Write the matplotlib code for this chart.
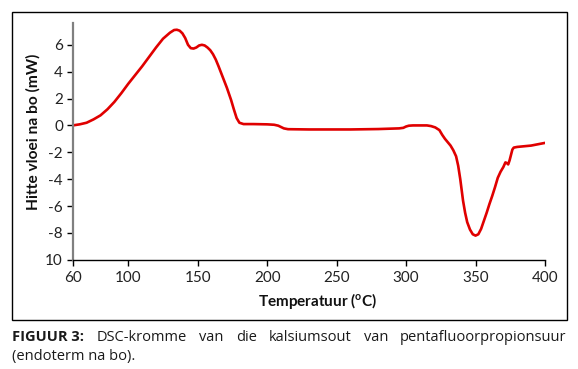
import matplotlib
matplotlib.use("Agg")
import matplotlib.pyplot as plt
from matplotlib.patches import Rectangle

# ---- data ----
temperature = [60, 65, 70, 75, 80, 85, 90, 95, 100, 105, 110, 115, 120, 125, 130,
               133, 135, 137, 139, 141, 143, 145, 147, 149, 151, 153, 155, 157, 159,
               161, 163, 165, 168, 171, 174, 176, 178, 180, 183, 190, 200, 205, 208,
               210, 212, 215, 230, 260, 280, 295, 298, 300, 302, 305, 315, 318, 321,
               324, 326, 328, 330, 332, 334, 336, 337.5, 339, 340, 341, 342.5, 344,
               346, 348, 350, 352, 354, 356, 358, 360, 362, 364, 366, 368, 370, 371.5,
               372.5, 373.5, 374.5, 375.5, 376.5, 377.5, 380, 385, 390, 395, 400]
heat_flow = [0.0, 0.08, 0.2, 0.45, 0.75, 1.2, 1.75, 2.4, 3.1, 3.75, 4.4, 5.1, 5.8,
             6.45, 6.9, 7.1, 7.12, 7.05, 6.85, 6.5, 6.0, 5.75, 5.72, 5.8, 5.95, 6.0,
             5.95, 5.8, 5.6, 5.3, 4.9, 4.4, 3.6, 2.8, 1.9, 1.2, 0.55, 0.2, 0.1, 0.1,
             0.08, 0.05, -0.02, -0.12, -0.22, -0.28, -0.3, -0.3, -0.27, -0.22, -0.18,
             -0.08, -0.02, 0.0, 0.0, -0.05, -0.15, -0.35, -0.7, -1.0, -1.25, -1.5,
             -1.85, -2.3, -3.0, -4.0, -4.8, -5.6, -6.5, -7.2, -7.75, -8.1, -8.2, -8.1,
             -7.7, -7.1, -6.5, -5.85, -5.25, -4.6, -3.9, -3.45, -3.1, -2.75, -2.8,
             -2.9, -2.6, -2.2, -1.8, -1.65, -1.6, -1.55, -1.5, -1.4, -1.3]
x_ticks = [60, 100, 150, 200, 250, 300, 350, 400]
y_ticks = [6, 4, 2, 0, -2, -4, -6, -8, -10]
y_tick_labels = ["6", "4", "2", "0", "-2", "-4", "-6", "-8", "10"]
x_label = "Temperatuur ($\\mathregular{^{o}}$C)"
y_label = "Hitte vloei na bo (mW)"
caption_bold = "FIGUUR 3:"
caption_words1 = ["DSC-kromme", "van", "die", "kalsiumsout", "van", "pentafluoorpropionsuur"]
caption_line2 = "(endoterm na bo)."

W, H = 578, 369
fig = plt.figure(figsize=(W / 100, H / 100), dpi=100)
font = "Lato"
plt.rcParams["font.family"] = [font, "DejaVu Sans"]
plt.rcParams["mathtext.fontset"] = "custom"
plt.rcParams["mathtext.rm"] = font
plt.rcParams["mathtext.bf"] = font + ":bold"

def fx(px):
    return px / W

def fy(py):
    return 1 - py / H

ax = fig.add_axes([fx(72.7), fy(259.8), fx(545) - fx(72.7), fy(23.3) - fy(259.8)])
ax.plot(temperature, heat_flow, color="#e00000", lw=1.9, solid_joinstyle="round",
        solid_capstyle="round")
ax.set_xlim(60, 400)
ax.set_ylim(-10, 7.6)
ax.set_xticks(x_ticks)
ax.set_yticks(y_ticks)
ax.set_yticklabels(y_tick_labels)
for s in ["top", "right"]:
    ax.spines[s].set_visible(False)
ax.spines["left"].set_color("#808080")
ax.spines["left"].set_linewidth(1.6)
ax.spines["bottom"].set_color("#000000")
ax.spines["bottom"].set_linewidth(1.0)
ax.tick_params(axis="x", direction="out", length=4, width=1, color="#000000",
               labelsize=11, pad=4, labelcolor="#222222")
ax.tick_params(axis="y", direction="out", length=4, width=1, color="#000000",
               labelsize=11, pad=3, labelcolor="#222222")

fig.text(fx(317.5), fy(301), x_label, ha="center", va="center",
         fontsize=11, fontweight="bold", color="#111111")
fig.text(fx(33), fy(132), y_label, ha="center", va="center", rotation=90,
         fontsize=11.2, fontweight="bold", color="#111111")

# outer frame
fig.patches.append(Rectangle((fx(12), fy(319.5)), fx(567) - fx(12), fy(12) - fy(319.5),
                             transform=fig.transFigure, fill=False, ec="black", lw=1.0))

# justified caption line 1
fig.canvas.draw()
renderer = fig.canvas.get_renderer()
x0, x1 = 12.5, 566.7
ycap1 = fy(337.3)
items = [(caption_bold, "bold")] + [(w, "normal") for w in caption_words1]
texts = []
total = 0
for t, wgt in items:
    tx = fig.text(0, ycap1, t, ha="left", va="center", fontsize=10.5,
                  fontweight=wgt, color="#1a1a1a", family="Open Sans")
    bb = tx.get_window_extent(renderer)
    texts.append((tx, bb.width))
    total += bb.width
gap = (x1 - x0 - total) / (len(items) - 1)
cur = x0
for tx, wdt in texts:
    tx.set_x(fx(cur))
    cur += wdt + gap
fig.text(fx(x0), fy(356.7), caption_line2, ha="left", va="center", fontsize=10.5,
         color="#1a1a1a", family="Open Sans")

fig.savefig("out.png", dpi=100)
